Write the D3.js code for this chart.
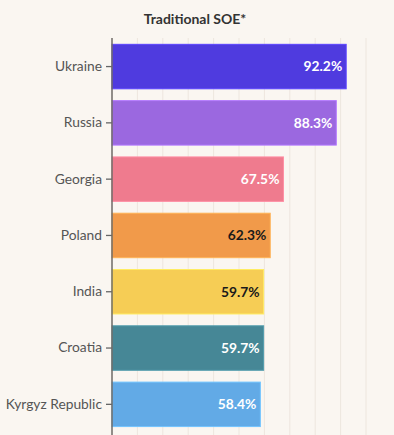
<!DOCTYPE html>
<html>
<head>
<meta charset="utf-8">
<script src="https://cdn.jsdelivr.net/npm/d3@7"></script>
<style>
  html, body { margin: 0; padding: 0; background: #faf6f1; }
  svg { display: block; font-family: "Source Sans Pro", Lato, "Noto Sans", sans-serif; }
</style>
</head>
<body>
<svg id="chart" width="394" height="435"></svg>
<script>
const countries = ["Ukraine", "Russia", "Georgia", "Poland", "India", "Croatia", "Kyrgyz Republic"];
const values = [92.2, 88.3, 67.5, 62.3, 59.7, 59.7, 58.4];
const colors = ["#4f3bdf", "#9b68e0", "#ef7b8e", "#f19a4a", "#f6cd55", "#468796", "#62aae6"];
const labelColors = ["#fff", "#fff", "#fff", "#1a1a1a", "#1a1a1a", "#fff", "#fff"];
const gridTicks = [10, 20, 30, 40, 50, 60, 70, 80, 90, 100];

const svg = d3.select("#chart");
const width = 394, height = 435;
const margin = { top: 38, right: 28, bottom: 0, left: 112 };

const x = d3.scaleLinear().domain([0, 100]).range([margin.left, 366]);
const y = d3.scaleBand()
  .domain(countries)
  .range([38.7, 432.2])
  .paddingInner(0.21)
  .paddingOuter(0.1);

// title
svg.append("text")
  .attr("x", 195)
  .attr("y", 24)
  .attr("text-anchor", "middle")
  .style("font-size", "14px")
  .style("font-weight", "700")
  .style("fill", "#333")
  .text("Traditional SOE*");

// gridlines
svg.append("g")
  .selectAll("line")
  .data(gridTicks)
  .join("line")
  .attr("x1", d => x(d)).attr("x2", d => x(d))
  .attr("y1", margin.top).attr("y2", height)
  .attr("stroke", "#ede6de")
  .attr("stroke-width", 1);

// bars
const rows = countries.map((c, i) => ({ c, v: values[i], fill: colors[i], lc: labelColors[i] }));

svg.append("g")
  .selectAll("rect")
  .data(rows)
  .join("rect")
  .attr("x", x(0))
  .attr("y", d => y(d.c))
  .attr("width", d => x(d.v) - x(0))
  .attr("height", y.bandwidth())
  .attr("fill", d => d.fill)
  .attr("stroke", d => d3.color(d.fill).brighter(0.4))
  .attr("stroke-width", 1);

// value labels
svg.append("g")
  .selectAll("text")
  .data(rows)
  .join("text")
  .attr("x", d => x(d.v) - 4)
  .attr("y", d => y(d.c) + y.bandwidth() / 2)
  .attr("dy", "0.35em")
  .attr("text-anchor", "end")
  .style("font-size", "13.8px")
  .style("font-weight", "700")
  .style("fill", d => d.lc)
  .text(d => d.v.toFixed(1) + "%");

// y axis
const yAxis = svg.append("g")
  .attr("transform", `translate(${margin.left},0)`)
  .call(d3.axisLeft(y).tickSize(6).tickPadding(4).tickSizeOuter(0));
yAxis.select(".domain").remove();
yAxis.selectAll(".tick line").attr("stroke", "#666").attr("stroke-width", 1.3);
yAxis.selectAll(".tick text")
  .style("font-size", "13.8px")
  .style("fill", "#555")
  .style("font-family", "\"Source Sans Pro\", Lato, \"Noto Sans\", sans-serif");

svg.append("line")
  .attr("x1", margin.left).attr("x2", margin.left)
  .attr("y1", margin.top).attr("y2", height)
  .attr("stroke", "#6e6a66")
  .attr("stroke-width", 1.5);
</script>
</body>
</html>
